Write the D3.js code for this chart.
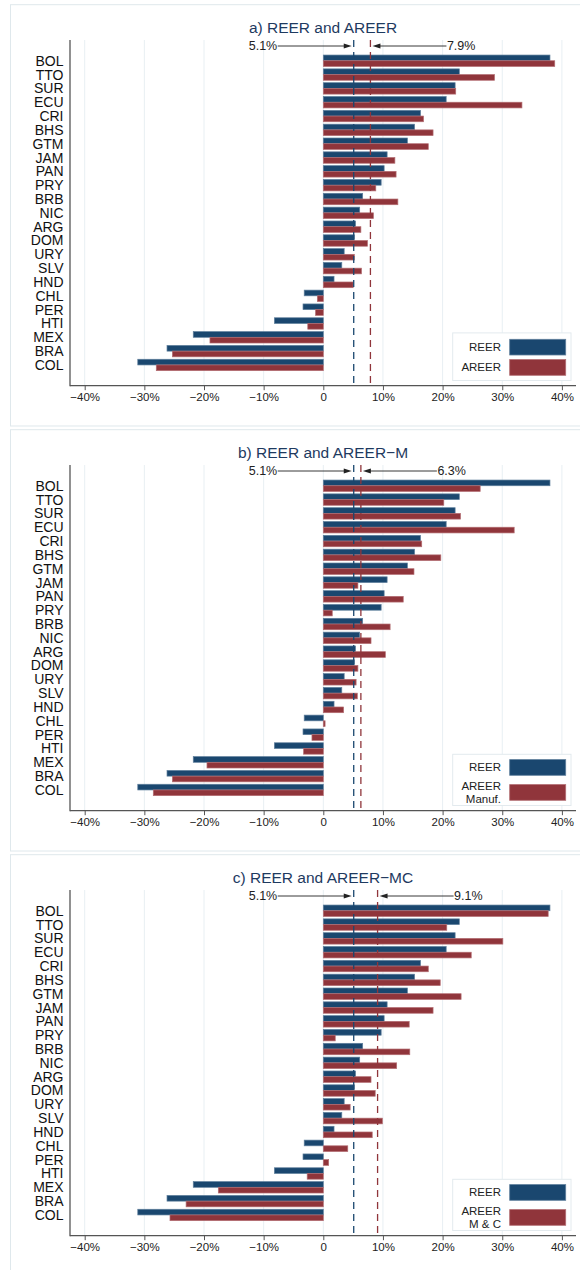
<!DOCTYPE html>
<html>
<head>
<meta charset="utf-8">
<script src="https://cdn.jsdelivr.net/npm/d3@7"></script>
<style>
  html, body { margin: 0; padding: 0; background: #ffffff; }
  svg { display: block; font-family: "Liberation Sans", Arial, Helvetica, sans-serif; }
</style>
</head>
<body>
<svg id="chart" width="580" height="1270"></svg>
<script>
// Countries, ordered by REER misalignment
const countries = ["BOL","TTO","SUR","ECU","CRI","BHS","GTM","JAM","PAN","PRY","BRB","NIC",
                   "ARG","DOM","URY","SLV","HND","CHL","PER","HTI","MEX","BRA","COL"];

// REER misalignment (%)
const reer = [38.0, 22.8, 22.1, 20.6, 16.3, 15.3, 14.1, 10.7, 10.2, 9.7, 6.6, 6.1,
              5.4, 5.2, 3.5, 3.1, 1.8, -3.2, -3.4, -8.2, -21.8, -26.2, -31.1];

// AREER misalignment (%)
const areer = [38.8, 28.7, 22.2, 33.3, 16.8, 18.4, 17.6, 12.0, 12.2, 8.8, 12.5, 8.4,
               6.3, 7.4, 5.2, 6.4, 5.0, -1.0, -1.3, -2.6, -19.0, -25.3, -28.0];

// AREER, manufactures weights (%)
const areerM = [26.3, 20.2, 23.0, 32.0, 16.5, 19.7, 15.2, 5.8, 13.4, 1.5, 11.2, 8.0,
                10.4, 5.8, 5.5, 5.7, 3.4, 0.3, -1.9, -3.3, -19.5, -25.3, -28.5];

// AREER, manufactures and commodities weights (%)
const areerMC = [37.7, 20.7, 30.1, 24.8, 17.6, 19.6, 23.1, 18.4, 14.4, 2.0, 14.5, 12.3,
                 8.0, 8.7, 4.5, 9.9, 8.2, 4.1, 0.9, -2.7, -17.6, -23.0, -25.7];

// Averages marked with dashed lines
const reerMean = 5.1;
const areerMeans = [7.9, 6.3, 9.1];

const panelTitles = ["a) REER and AREER", "b) REER and AREER\u2212M", "c) REER and AREER\u2212MC"];
const legendLabels = [["AREER"], ["AREER", "Manuf."], ["AREER", "M & C"]];
const tickValues = [-40, -30, -20, -10, 0, 10, 20, 30, 40];
const tickLabels = ["\u221240%", "\u221230%", "\u221220%", "\u221210%", "0", "10%", "20%", "30%", "40%"];

const series = [areer, areerM, areerMC];

const NAVY = "#1a476f", MAROON = "#90353b";
const NAVY_LINE = "#5f7f9c", MAROON_LINE = "#b36d72";

const svg = d3.select("#chart");

const x = d3.scaleLinear().domain([-40, 40]).range([84.7, 561.9]);

function drawPanel(i) {
  const top = 4.7 + i * 425;
  const g = svg.append("g").attr("transform", `translate(0,${top})`);
  const plotTop = 35.3, plotBottom = 381;
  const axisLeft = 70, axisRight = 576;

  // panel frame
  g.append("rect").attr("x", 10.5).attr("y", 0).attr("width", 620).attr("height", 421.3)
    .attr("fill", "#ffffff").attr("stroke", "#dfe8ec").attr("stroke-width", 1);

  const y = d3.scalePoint().domain(countries).range([plotTop, plotBottom]).padding(1.5);

  // vertical gridlines
  g.append("g").selectAll("line").data(tickValues).join("line")
    .attr("x1", d => x(d)).attr("x2", d => x(d))
    .attr("y1", plotTop).attr("y2", plotBottom)
    .attr("stroke", "#e8eff3").attr("stroke-width", 1);

  // title
  g.append("text").attr("x", (axisLeft + axisRight) / 2).attr("y", 28.3)
    .attr("text-anchor", "middle").attr("font-size", 15.5).attr("fill", "#1e3a5f")
    .text(panelTitles[i]);

  const bh = 5.7;
  const vals = series[i];
  // REER bars
  g.append("g").selectAll("rect").data(countries).join("rect")
    .attr("x", (d, k) => Math.min(x(0), x(reer[k])))
    .attr("width", (d, k) => Math.abs(x(reer[k]) - x(0)))
    .attr("y", d => y(d) - bh).attr("height", bh)
    .attr("fill", NAVY).attr("stroke", NAVY_LINE).attr("stroke-width", 0.7);
  // AREER bars
  g.append("g").selectAll("rect").data(countries).join("rect")
    .attr("x", (d, k) => Math.min(x(0), x(vals[k])))
    .attr("width", (d, k) => Math.abs(x(vals[k]) - x(0)))
    .attr("y", d => y(d)).attr("height", bh)
    .attr("fill", MAROON).attr("stroke", MAROON_LINE).attr("stroke-width", 0.7);

  // average lines
  g.append("line").attr("x1", x(reerMean)).attr("x2", x(reerMean))
    .attr("y1", plotTop).attr("y2", plotBottom)
    .attr("stroke", NAVY).attr("stroke-width", 1.3).attr("stroke-dasharray", "7,5");
  g.append("line").attr("x1", x(areerMeans[i])).attr("x2", x(areerMeans[i]))
    .attr("y1", plotTop).attr("y2", plotBottom)
    .attr("stroke", MAROON).attr("stroke-width", 1.3).attr("stroke-dasharray", "7,5");

  // arrows pointing at the averages
  const ay = 41.3, len = 74;
  const bx = x(reerMean) - 2, rx = x(areerMeans[i]) + 2;
  const ann = g.append("g").attr("fill", "#222").attr("stroke", "#222");
  ann.append("line").attr("x1", bx - len).attr("x2", bx - 6).attr("y1", ay).attr("y2", ay).attr("stroke-width", 0.9);
  ann.append("path").attr("d", `M${bx},${ay}L${bx - 8},${ay - 2.6}L${bx - 8},${ay + 2.6}Z`).attr("stroke", "none");
  ann.append("line").attr("x1", rx + 6).attr("x2", rx + len).attr("y1", ay).attr("y2", ay).attr("stroke-width", 0.9);
  ann.append("path").attr("d", `M${rx},${ay}L${rx + 8},${ay - 2.6}L${rx + 8},${ay + 2.6}Z`).attr("stroke", "none");
  ann.append("text").attr("x", bx - len - 0.5).attr("y", ay + 4.3).attr("text-anchor", "end")
    .attr("font-size", 12.5).attr("stroke", "none").text(reerMean.toFixed(1) + "%");
  ann.append("text").attr("x", rx + len + 0.5).attr("y", ay + 4.3).attr("text-anchor", "start")
    .attr("font-size", 12.5).attr("stroke", "none").text(areerMeans[i].toFixed(1) + "%");

  // category labels
  g.append("g").selectAll("text").data(countries).join("text")
    .attr("x", 63.5).attr("y", d => y(d) + 5)
    .attr("text-anchor", "end").attr("font-size", 14).attr("fill", "#111")
    .text(d => d);

  // axes
  g.append("line").attr("x1", axisLeft).attr("x2", axisLeft).attr("y1", plotTop).attr("y2", plotBottom + 0.6)
    .attr("stroke", "#555").attr("stroke-width", 1.3);
  g.append("line").attr("x1", axisLeft).attr("x2", axisRight).attr("y1", plotBottom).attr("y2", plotBottom)
    .attr("stroke", "#555").attr("stroke-width", 1.3);
  const ax = d3.axisBottom(x).tickValues(tickValues).tickSize(4.5).tickPadding(3)
    .tickFormat((d, k) => tickLabels[k]);
  const axg = g.append("g").attr("transform", `translate(0,${plotBottom})`).call(ax);
  axg.select(".domain").remove();
  axg.selectAll(".tick line").attr("stroke", "#555").attr("stroke-width", 1);
  axg.selectAll(".tick text").attr("font-size", 11.5).attr("fill", "#222")
    .attr("font-family", "Liberation Sans, Arial, sans-serif");

  // legend
  const lines = legendLabels[i];
  const boxBottom = 375.8, boxLeft = 452.7, boxRight = 571;
  const sw = 15.7, swLeft = 509.7, swRight = 565.7;
  const sw2Top = boxBottom - 5.2 - sw;
  const sw1Top = sw2Top - (lines.length > 1 ? 25 : 20.3);
  const boxTop = sw1Top - (lines.length > 1 ? 5.3 : 6.4);
  const lg = g.append("g");
  lg.append("rect").attr("x", boxLeft).attr("y", boxTop).attr("width", boxRight - boxLeft)
    .attr("height", boxBottom - boxTop).attr("fill", "#ffffff").attr("stroke", "#e3eaee");
  lg.append("rect").attr("x", swLeft).attr("y", sw1Top).attr("width", swRight - swLeft).attr("height", sw)
    .attr("fill", NAVY).attr("stroke", NAVY_LINE).attr("stroke-width", 0.8);
  lg.append("rect").attr("x", swLeft).attr("y", sw2Top).attr("width", swRight - swLeft).attr("height", sw)
    .attr("fill", MAROON).attr("stroke", MAROON_LINE).attr("stroke-width", 0.8);
  lg.append("text").attr("x", 501).attr("y", sw1Top + sw / 2 + 4).attr("text-anchor", "end")
    .attr("font-size", 11.5).attr("fill", "#222").text("REER");
  const c2 = sw2Top + sw / 2, lh = 12.3;
  lines.forEach((t, k) => {
    lg.append("text").attr("x", 501)
      .attr("y", c2 + (k - (lines.length - 1) / 2) * lh + 4)
      .attr("text-anchor", "end").attr("font-size", 11.5).attr("fill", "#222").text(t);
  });
}

[0, 1, 2].forEach(drawPanel);
</script>
</body>
</html>
